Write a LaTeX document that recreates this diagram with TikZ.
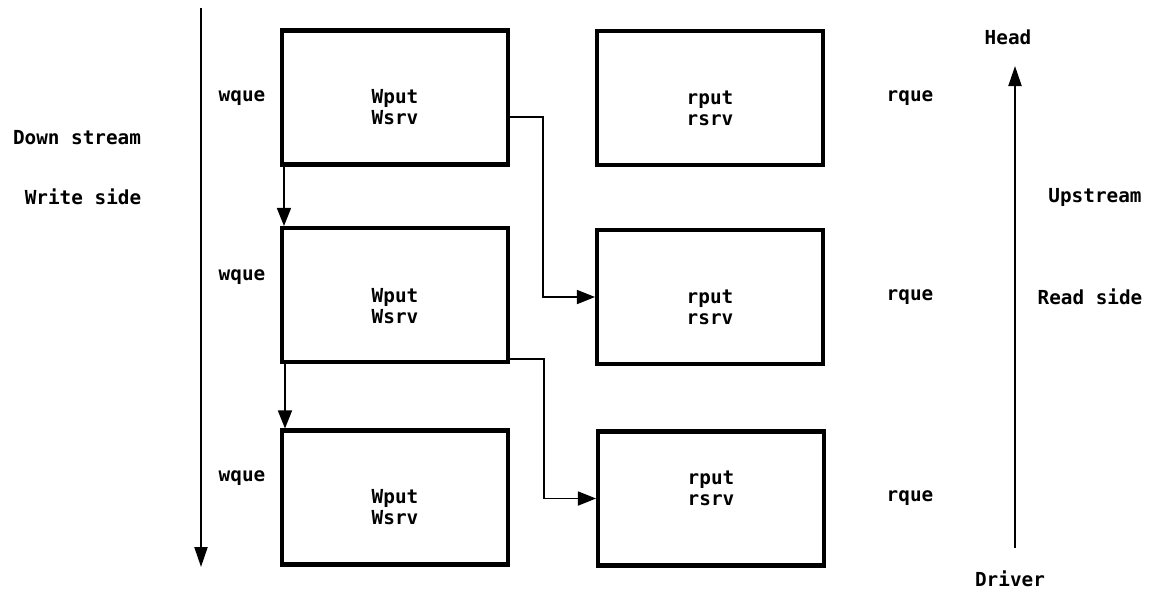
\documentclass[tikz,border=0pt]{standalone}
\usepackage{fontspec}
\setmonofont{DejaVu Sans Mono}
\usepackage{tikz}
\usetikzlibrary{arrows.meta}

\tikzset{
  qbox/.style={draw, line width=2.3pt, minimum width=226*0.02cm, minimum height=134*0.02cm, inner sep=0pt},
  lbl/.style={font=\ttfamily\bfseries\fontsize{11}{12}\selectfont, inner sep=0pt},
  inlbl/.style={lbl, align=center, yshift=#1},
  arr/.style={line width=0.9pt, -{Triangle[length=0.36cm,width=0.28cm]}},
  flow/.style={line width=1.2pt, -{Triangle[length=0.4cm,width=0.26cm]}}
}

\begin{document}
\begin{tikzpicture}[x=0.02cm,y=-0.02cm]
    \useasboundingbox (0,0) rectangle (1165,593);
    % write side queues
    \node[qbox, label={[inlbl=-0.2cm]center:{Wput\\Wsrv}}] (w1) at (395,97.5) {};
    \node[qbox, label={[inlbl=-0.22cm]center:{Wput\\Wsrv}}] (w2) at (395,295) {};
    \node[qbox, label={[inlbl=-0.2cm]center:{Wput\\Wsrv}}] (w3) at (395,497.5) {};
    % read side queues
    \node[qbox, label={[inlbl=-0.2cm]center:{rput\\rsrv}}] (r1) at (710,98) {};
    \node[qbox, label={[inlbl=-0.2cm]center:{rput\\rsrv}}] (r2) at (710,297) {};
    \node[qbox, label={[inlbl=0.2cm]center:{rput\\rsrv}}] (r3) at (711,498.5) {};
    % queue names
    \node[lbl] (wq1) at (242,98) {wque};
    \node[lbl] (wq2) at (242,277) {wque};
    \node[lbl] (wq3) at (242,478) {wque};
    \node[lbl] (rq1) at (910,98) {rque};
    \node[lbl] (rq2) at (910,297) {rque};
    \node[lbl] (rq3) at (910,498) {rque};
    % side labels
    \node[lbl] (down) at (77,138) {Down stream};
    \node[lbl] (wside) at (83,197) {Write side};
    \node[lbl] (head) at (1008,37) {Head};
    \node[lbl] (up) at (1095,197) {Upstream};
    \node[lbl] (rside) at (1090,297) {Read side};
    \node[lbl] (drv) at (1010,579) {Driver};
    % direction arrows
    \coordinate (dtop) at (201,8);
    \coordinate (dbot) at (201,567);
    \coordinate (ubot) at (1015,548);
    \coordinate (utop) at (1015,66);
    \draw[flow] (dtop) -- (dbot);
    \draw[flow] (ubot) -- (utop);
    % connections between queues
    \draw[arr] ([xshift=0.08cm]w1.south west) -- ([xshift=0.08cm]w2.north west);
    \draw[arr] ([xshift=0.1cm]w2.south west) -- ([xshift=0.1cm]w3.north west);
    \draw[arr] ([yshift=-0.39cm]w1.east) -- ++(33,0) |- (r2.west);
    \draw[arr] ([yshift=0.1cm]w2.south east) -- ++(34,0) |- (r3.west);
\end{tikzpicture}
\end{document}
